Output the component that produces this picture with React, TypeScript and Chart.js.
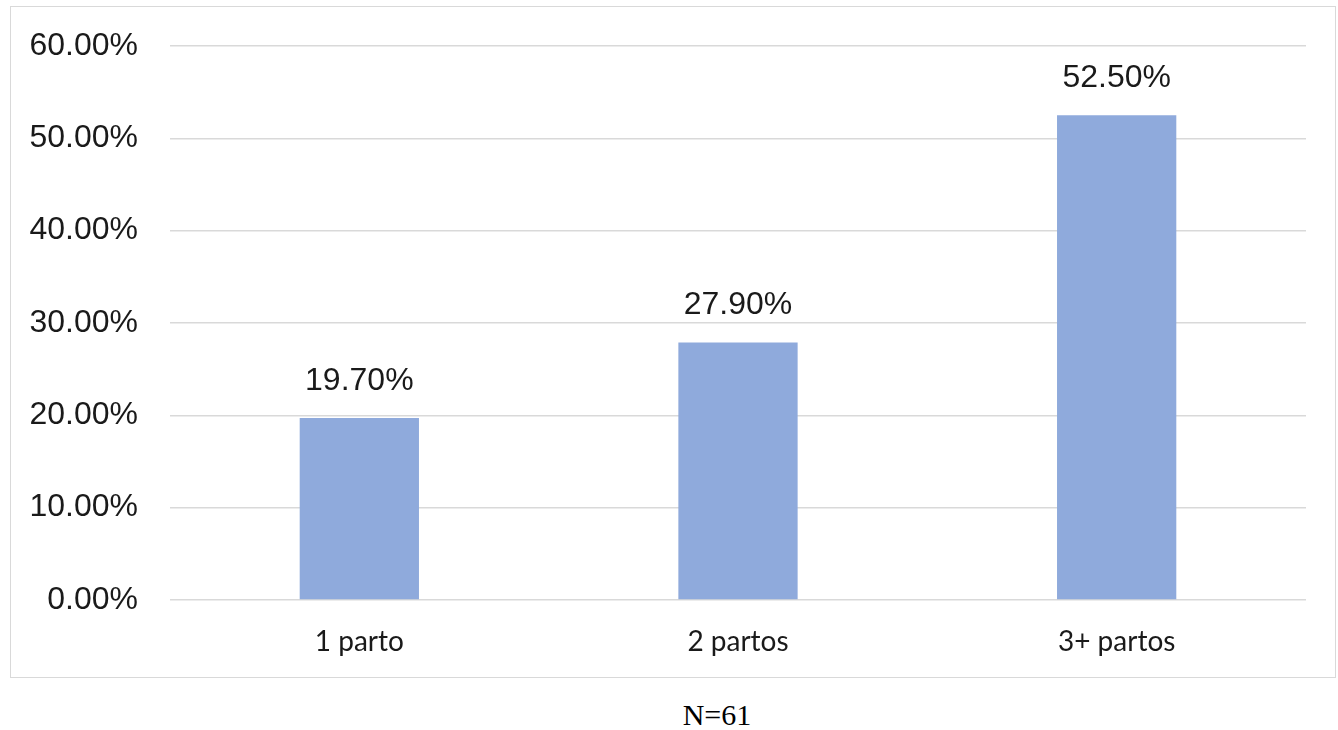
import React, { useEffect, useRef } from "react";
import { Chart, registerables } from "chart.js";

Chart.register(...registerables);

const categories = ["1 parto", "2 partos", "3+ partos"];
const values = [19.7, 27.9, 52.5];
const yTicks = [0, 10, 20, 30, 40, 50, 60];
const note = "N=61";

const labelPlugin = {
  id: "barLabels",
  afterDatasetsDraw(chart: any) {
    const ctx = chart.ctx;
    const meta = chart.getDatasetMeta(0);
    ctx.save();
    ctx.font = "32px 'Liberation Sans', Arial, sans-serif";
    ctx.fillStyle = "#1a1a1a";
    ctx.textAlign = "center";
    ctx.textBaseline = "alphabetic";
    meta.data.forEach((bar: any, i: number) => {
      ctx.fillText(values[i].toFixed(2) + "%", bar.x, bar.y - 28);
    });
    ctx.restore();
  },
};

export default function App() {
  const ref = useRef<HTMLCanvasElement>(null);
  useEffect(() => {
    const chart = new Chart(ref.current!, {
      type: "bar",
      data: {
        labels: categories,
        datasets: [
          {
            data: values,
            backgroundColor: "#8faadc",
            categoryPercentage: 1,
            barPercentage: 0.315,
          },
        ],
      },
      options: {
        animation: false,
        responsive: true,
        maintainAspectRatio: false,
        layout: { padding: { top: 39, right: 29, left: 0, bottom: 0 } },
        plugins: { legend: { display: false }, tooltip: { enabled: false } },
        scales: {
          x: {
            grid: { display: false, drawTicks: false },
            border: { display: false },
            ticks: {
              padding: 25,
              color: "#1a1a1a",
              font: { family: "Lato, 'Open Sans', sans-serif", size: 28 },
            },
            afterFit(scale: any) {
              scale.height = 77;
              scale.paddingLeft = 0;
              scale.paddingRight = 0;
            },
          },
          y: {
            min: 0,
            max: 60,
            afterBuildTicks(scale: any) {
              scale.ticks = yTicks.map((v) => ({ value: v }));
            },
            grid: { color: "#d9d9d9", lineWidth: 1.5, drawTicks: false },
            border: { display: false },
            ticks: {
              padding: 32,
              color: "#1a1a1a",
              font: { family: "'Liberation Sans', Arial, sans-serif", size: 32 },
              callback: (v: any) => Number(v).toFixed(2) + "%",
            },
            afterFit(scale: any) {
              scale.width = 159;
              scale.paddingTop = 0;
              scale.paddingBottom = 0;
            },
          },
        },
      },
      plugins: [labelPlugin],
    });
    return () => chart.destroy();
  }, []);

  return (
    <div>
      <div
        style={{
          position: "absolute",
          left: 10,
          top: 6,
          width: 1326,
          height: 672,
          boxSizing: "border-box",
          border: "1px solid #d9d9d9",
          background: "#fff",
        }}
      >
        <div style={{ position: "relative", width: 1324, height: 670 }}>
          <canvas ref={ref} />
        </div>
      </div>
      <div
        style={{
          position: "absolute",
          left: 0,
          top: 695,
          width: 1434,
          textAlign: "center",
          fontFamily: "'Liberation Serif', 'Times New Roman', serif",
          fontSize: 30,
          color: "#000",
          lineHeight: "40px",
        }}
      >
        {note}
      </div>
    </div>
  );
}
